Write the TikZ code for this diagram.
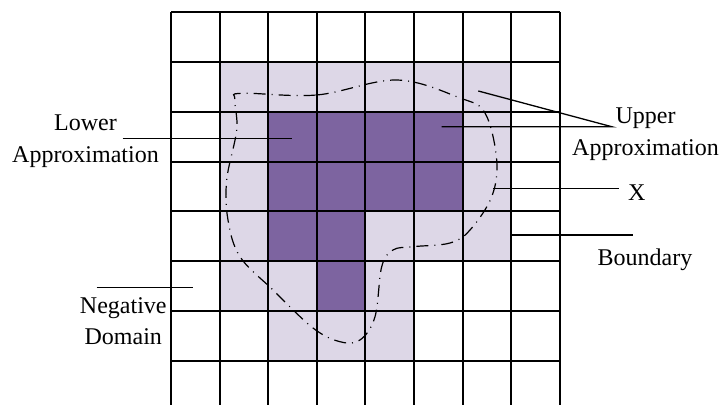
\documentclass[tikz,border=0pt]{standalone}
\usepackage{fontspec}
\setmainfont{Liberation Serif}
\definecolor{lowfill}{HTML}{7D64A0}
\definecolor{upfill}{HTML}{DDD7E7}
\tikzset{
  gridline/.style={line width=1pt},
  leader/.style={line width=0.65pt},
  lbl/.style={font=\fontsize{12}{15.8}\selectfont, align=center, inner sep=0pt},
  setx/.style={line width=0.6pt, dash pattern=on 6pt off 3pt on 0.5pt off 3pt},
}
\begin{document}
\begin{tikzpicture}[x=0.5pt, y=-0.5pt]
    \useasboundingbox (0,0) rectangle (721,405);

    % 1. Cells and grid
    \begin{scope}
    \clip (0,0) rectangle (721,405);
    \begin{scope}[shift={(171,12.3)}, x=24.3pt, y=-24.9pt]
        \fill[upfill] (1,1) rectangle (7,5);
        \fill[upfill] (1,5) rectangle (5,6);
        \fill[upfill] (2,6) rectangle (5,7);
        \fill[lowfill] (2,2) rectangle (6,4);
        \fill[lowfill] (2,4) rectangle (4,5);
        \fill[lowfill] (3,5) rectangle (4,6);
        \foreach \i in {0,...,8} {
            \draw[gridline] (\i,0) -- (\i,8.2);
            \draw[gridline] (0,\i) -- (8,\i);
        }
    \end{scope}
    \end{scope}

    % 2. Set X
    \draw[setx] plot[smooth cycle, tension=0.6] coordinates {
        (241.7,93.3) (316.7,95) (396.7,80) (460,98) (485,113)
        (496.7,160) (491.7,196.7) (470,230) (450,243) (413,246.7)
        (393,250) (381.7,266.7) (375,316.7) (360,340) (340,341.7)
        (313,328) (273,290) (240,256.7) (228,220) (226.7,180)
        (236.7,130) (235,100)};

    % 3. Labels
    \node[lbl] (lower) at (85.5,141) {Lower\\Approximation};
    \node[lbl] (upper) at (645.5,134) {Upper\\Approximation};
    \node[lbl] (setlbl) at (636.7,193) {X};
    \node[lbl] (bound) at (645,260) {Boundary};
    \node[lbl] (neg) at (123.3,321) {Negative\\Domain};

    % 4. Leader lines
    \coordinate (lowA) at (122.7,138.3);
    \coordinate (lowB) at (291.7,138.3);
    \coordinate (upM) at (611.7,126.7);
    \coordinate (upA) at (478.3,91);
    \coordinate (upB) at (441.7,126.7);
    \coordinate (xA) at (493.3,188.3);
    \coordinate (xB) at (619.3,188.3);
    \coordinate (bdA) at (510,235);
    \coordinate (bdB) at (632.7,235);
    \coordinate (ngA) at (96.7,287.3);
    \coordinate (ngB) at (192.7,287.3);
    \draw[leader] (lowA) -- (lowB);
    \draw[leader] (upA) -- (upM) -- (upB);
    \draw[leader] (xA) -- (xB);
    \draw[leader] (bdA) -- (bdB);
    \draw[leader] (ngA) -- (ngB);
\end{tikzpicture}
\end{document}
